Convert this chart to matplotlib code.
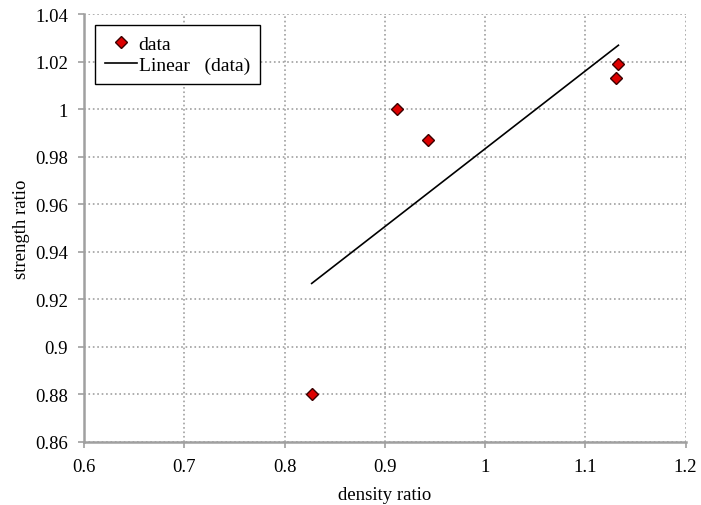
import numpy as np
import matplotlib.pyplot as plt

plt.rcParams['font.family'] = ['Liberation Serif', 'DejaVu Serif']

density_ratio = [0.827, 0.912, 0.943, 1.131, 1.133]
strength_ratio = [0.880, 1.000, 0.987, 1.013, 1.019]

fig = plt.figure(figsize=(7.01, 5.06), dpi=100)
ax = fig.add_axes([0.12, 0.125, 0.858, 0.845])

# linear trendline over the data range
k, b = np.polyfit(density_ratio, strength_ratio, 1)
xs = np.array([min(density_ratio), max(density_ratio)])

ax.plot(density_ratio, strength_ratio, linestyle='none', marker='D',
        markersize=6.5, markerfacecolor='#dd0000', markeredgecolor='#3a0000',
        markeredgewidth=1, label='data', zorder=3)
ax.plot(xs, k * xs + b, color='black', linewidth=1.2,
        label='Linear   (data)', zorder=2)

ax.set_xlim(0.6, 1.2)
ax.set_ylim(0.86, 1.04)
ax.set_xticks(np.arange(0.6, 1.21, 0.1))
ax.set_xticklabels(['0.6', '0.7', '0.8', '0.9', '1', '1.1', '1.2'])
ax.set_yticks(np.arange(0.86, 1.041, 0.02))
ax.set_yticklabels(['0.86', '0.88', '0.9', '0.92', '0.94', '0.96', '0.98',
                    '1', '1.02', '1.04'])

ax.grid(True, color='#a0a0a0', linestyle=':', linewidth=1.2)
ax.set_axisbelow(True)
for s in ['top', 'right']:
    ax.spines[s].set_visible(False)
for s in ['left', 'bottom']:
    ax.spines[s].set_color('#a0a0a0')
    ax.spines[s].set_linewidth(1.8)
ax.tick_params(colors='#a0a0a0', labelcolor='black', labelsize=13.5,
               direction='out', length=4.5, width=1.2, pad=7)

ax.set_xlabel('density ratio', fontsize=13.5, labelpad=8)
ax.set_ylabel('strength ratio', fontsize=13.5, labelpad=4)

leg = ax.legend(loc='upper left', bbox_to_anchor=(0.018, 0.974), fontsize=14,
                fancybox=False, framealpha=1, edgecolor='black',
                handlelength=1.65, handletextpad=0.1, borderpad=0.5,
                labelspacing=0.2, borderaxespad=0)
leg.get_frame().set_linewidth(1.0)

fig.savefig('out.png', dpi=100)
